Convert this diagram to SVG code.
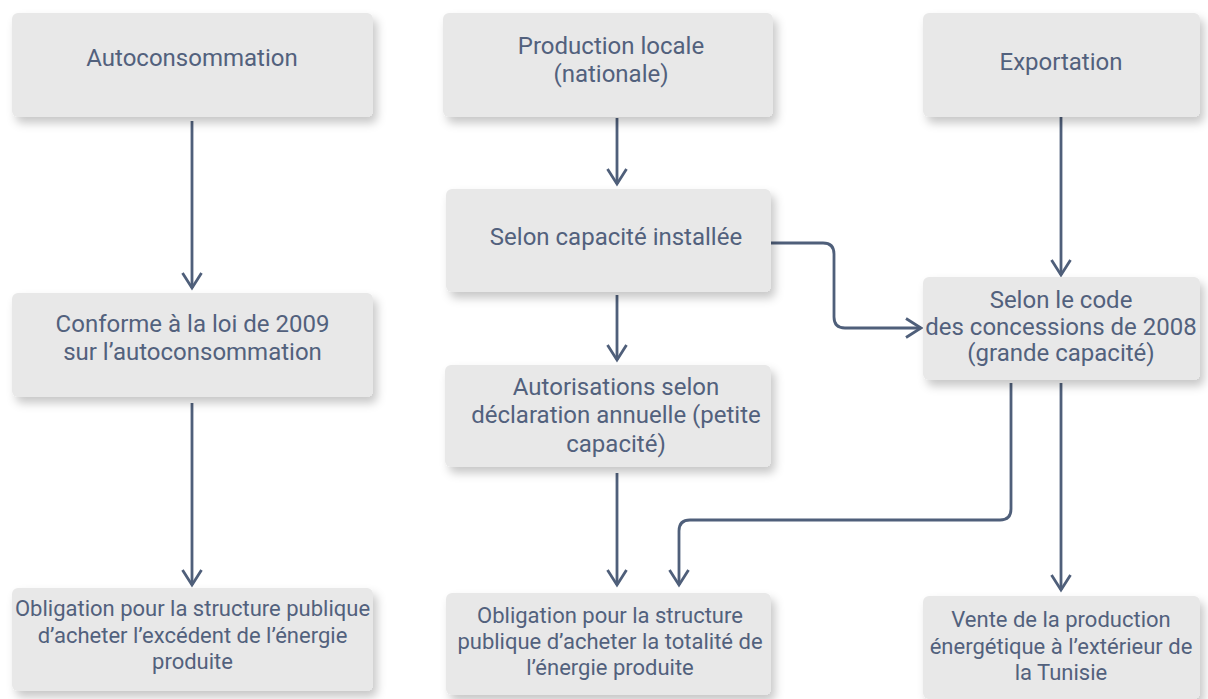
<svg xmlns="http://www.w3.org/2000/svg" width="1208" height="699" viewBox="0 0 1208 699">
  <defs>
    <filter id="sh" x="-10%" y="-25%" width="130%" height="160%">
      <feDropShadow dx="4" dy="6" stdDeviation="5" flood-color="#000" flood-opacity="0.22"/>
    </filter>
    <marker id="arr" markerUnits="userSpaceOnUse" markerWidth="30" markerHeight="30" viewBox="-20 -15 30 30" refX="0" refY="0" orient="auto">
      <path d="M-15,-9.5 L0,0 L-15,9.5" fill="none" stroke="#4f5f7a" stroke-width="2.8" stroke-linejoin="miter"/>
    </marker>
  </defs>
  <style>
    .box { fill: #e8e8e8; filter: url(#sh); }
    .t { font-family: Roboto, "Liberation Sans", sans-serif; fill: #52617d; text-anchor: middle; }
    .lg { font-size: 24px; }
    .sm { font-size: 22px; }
    .c { fill: none; stroke: #4f5f7a; stroke-width: 2.8; marker-end: url(#arr); }
  </style>
  <rect width="1208" height="699" fill="#ffffff"/>

  <g id="connectors">
    <path class="c" d="M192,121 V288"/>
    <path class="c" d="M192,403 V585"/>
    <path class="c" d="M617,118 V184"/>
    <path class="c" d="M617,295 V360"/>
    <path class="c" d="M617,473 V585"/>
    <path class="c" d="M771,243 H823 Q834,243 834,254 V317 Q834,328 845,328 H921"/>
    <path class="c" d="M1011,383 V509 Q1011,520 1000,520 H690 Q679,520 679,531 V585"/>
    <path class="c" d="M1061,117 V275"/>
    <path class="c" d="M1061,383 V590"/>
  </g>

  <g id="autoconsommation">
    <rect class="box" x="12" y="13" width="361" height="104" rx="6"/>
    <text class="t lg" x="192" y="66">Autoconsommation</text>
  </g>
  <g id="production-locale">
    <rect class="box" x="443" y="13" width="330" height="104" rx="6"/>
    <text class="t lg" x="611" y="54">Production locale</text>
    <text class="t lg" x="611" y="82">(nationale)</text>
  </g>
  <g id="exportation">
    <rect class="box" x="923" y="13" width="277" height="104" rx="6"/>
    <text class="t lg" x="1061" y="70">Exportation</text>
  </g>
  <g id="selon-capacite">
    <rect class="box" x="446" y="189" width="325" height="103" rx="6"/>
    <text class="t lg" x="616" y="245">Selon capacité installée</text>
  </g>
  <g id="conforme">
    <rect class="box" x="12" y="293" width="361" height="104" rx="6"/>
    <text class="t lg" x="192.5" y="332">Conforme à la loi de 2009</text>
    <text class="t lg" x="192.5" y="360">sur l’autoconsommation</text>
  </g>
  <g id="selon-code">
    <rect class="box" x="923" y="277" width="277" height="103" rx="6"/>
    <text class="t lg" x="1061" y="308">Selon le code</text>
    <text class="t lg" x="1061" y="335">des concessions de 2008</text>
    <text class="t lg" x="1061" y="361">(grande capacité)</text>
  </g>
  <g id="autorisations">
    <rect class="box" x="445" y="365" width="326" height="102" rx="6"/>
    <text class="t lg" x="616" y="395">Autorisations selon</text>
    <text class="t lg" x="616" y="423">déclaration annuelle (petite</text>
    <text class="t lg" x="616" y="452">capacité)</text>
  </g>
  <g id="obligation-excedent">
    <rect class="box" x="12" y="588" width="361" height="103" rx="6"/>
    <text class="t sm" x="192.5" y="616">Obligation pour la structure publique</text>
    <text class="t sm" x="192.5" y="643">d’acheter l’excédent de l’énergie</text>
    <text class="t sm" x="192.5" y="669">produite</text>
  </g>
  <g id="obligation-totalite">
    <rect class="box" x="446" y="593" width="325" height="102" rx="6"/>
    <text class="t sm" x="610" y="623">Obligation pour la structure</text>
    <text class="t sm" x="610" y="649">publique d’acheter la totalité de</text>
    <text class="t sm" x="610" y="675">l’énergie produite</text>
  </g>
  <g id="vente">
    <rect class="box" x="923" y="596" width="277" height="103" rx="6"/>
    <text class="t sm" x="1061" y="627">Vente de la production</text>
    <text class="t sm" x="1061" y="653.5">énergétique à l’extérieur de</text>
    <text class="t sm" x="1061" y="680">la Tunisie</text>
  </g>
</svg>
